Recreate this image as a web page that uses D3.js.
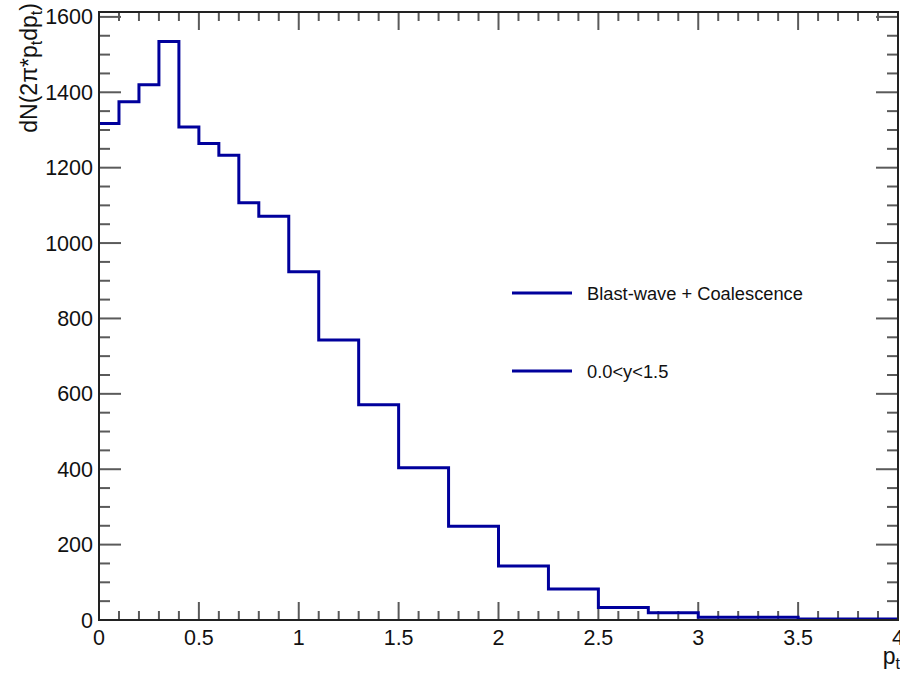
<!DOCTYPE html>
<html>
<head>
<meta charset="utf-8">
<script src="https://cdn.jsdelivr.net/npm/d3@7"></script>
<style>
  html, body { margin: 0; padding: 0; background: #fff; }
  svg { display: block; font-family: "Liberation Sans", Arial, Helvetica, sans-serif; }
</style>
</head>
<body>
<svg id="chart" width="900" height="673"></svg>
<script>
// Variable-width pt bins (GeV/c) and the yield in each bin
const binEdges = [0, 0.1, 0.2, 0.3, 0.4, 0.5, 0.6, 0.7, 0.8, 0.95, 1.1, 1.3, 1.5, 1.75, 2.0, 2.25, 2.5, 2.75, 3.0, 3.5, 4.0];
const binValues = [1317, 1375, 1420, 1535, 1308, 1264, 1233, 1107, 1071, 924, 743, 571, 404, 249, 143, 82, 33, 19, 7, 2.5];

const xTickLabels = ["0", "0.5", "1", "1.5", "2", "2.5", "3", "3.5", "4"];
const yTickLabels = ["0", "200", "400", "600", "800", "1000", "1200", "1400", "1600"];
const legendEntries = ["Blast-wave + Coalescence", "0.0<y<1.5"];

const lineColor = "#00009c";
const frameColor = "#222";
const tickColor = "#5a5a5a";

const svg = d3.select("#chart");
const padL = 99, padR = 898, padT = 12, padB = 620;

const x = d3.scaleLinear().domain([0, 4]).range([padL, padR]);
const y = d3.scaleLinear().domain([0, 1613]).range([padB, padT]);

const xMajor = xTickLabels.map(Number);
const yMajor = yTickLabels.map(Number);
const xMinor = d3.range(0, 4.0001, 0.1).filter(v => Math.abs(v * 2 - Math.round(v * 2)) > 1e-6);
const yMinor = d3.range(0, 1613, 50).filter(v => v % 200 !== 0);

const ticks = svg.append("g").attr("stroke", tickColor).attr("stroke-width", 2);

// Bottom and top ticks
xMajor.forEach(v => {
  ticks.append("line").attr("x1", x(v)).attr("x2", x(v)).attr("y1", padB).attr("y2", padB - 18);
  ticks.append("line").attr("x1", x(v)).attr("x2", x(v)).attr("y1", padT).attr("y2", padT + 18);
});
xMinor.forEach(v => {
  ticks.append("line").attr("x1", x(v)).attr("x2", x(v)).attr("y1", padB).attr("y2", padB - 9);
  ticks.append("line").attr("x1", x(v)).attr("x2", x(v)).attr("y1", padT).attr("y2", padT + 9);
});
// Left and right ticks
yMajor.forEach(v => {
  ticks.append("line").attr("x1", padL).attr("x2", padL + 22).attr("y1", y(v)).attr("y2", y(v));
  ticks.append("line").attr("x1", padR).attr("x2", padR - 22).attr("y1", y(v)).attr("y2", y(v));
});
yMinor.forEach(v => {
  ticks.append("line").attr("x1", padL).attr("x2", padL + 11).attr("y1", y(v)).attr("y2", y(v));
  ticks.append("line").attr("x1", padR).attr("x2", padR - 11).attr("y1", y(v)).attr("y2", y(v));
});

// Histogram outline
const pts = [];
binValues.forEach((v, i) => {
  pts.push([binEdges[i], v]);
  pts.push([binEdges[i + 1], v]);
});
svg.append("path")
  .attr("d", d3.line().x(d => x(d[0])).y(d => y(d[1]))(pts))
  .attr("fill", "none")
  .attr("stroke", lineColor)
  .attr("stroke-width", 3)
  .attr("stroke-linejoin", "miter");

// Frame
svg.append("rect")
  .attr("x", padL).attr("y", padT)
  .attr("width", padR - padL).attr("height", padB - padT)
  .attr("fill", "none").attr("stroke", frameColor).attr("stroke-width", 2);

// Tick labels
const fs = 21.5;
svg.append("g").selectAll("text").data(xTickLabels).join("text")
  .attr("x", d => x(+d)).attr("y", 645)
  .attr("text-anchor", "middle").attr("font-size", fs).attr("fill", "#111")
  .text(d => d);
svg.append("g").selectAll("text").data(yTickLabels).join("text")
  .attr("x", 93).attr("y", d => y(+d) + 7.5)
  .attr("text-anchor", "end").attr("font-size", fs).attr("fill", "#111")
  .text(d => d);

// Axis titles
const tfs = 23;
const yTitle = svg.append("text")
  .attr("transform", `translate(37,3) rotate(-90)`)
  .attr("text-anchor", "end").attr("font-size", tfs).attr("fill", "#111");
yTitle.append("tspan").text("dN(2π*p");
yTitle.append("tspan").attr("font-size", tfs * 0.7).attr("dy", 5).text("t");
yTitle.append("tspan").attr("dy", -5).text("dp");
yTitle.append("tspan").attr("font-size", tfs * 0.7).attr("dy", 5).text("t");
yTitle.append("tspan").attr("dy", -5).text(")");

const xTitle = svg.append("text")
  .attr("x", 900).attr("y", 664)
  .attr("text-anchor", "end").attr("font-size", tfs).attr("fill", "#111");
xTitle.append("tspan").text("p");
xTitle.append("tspan").attr("font-size", tfs * 0.7).attr("dy", 5).text("t");

// Legend
const legend = svg.append("g");
legendEntries.forEach((t, i) => {
  const ly = i === 0 ? 293 : 371;
  legend.append("line")
    .attr("x1", 512).attr("x2", 572).attr("y1", ly).attr("y2", ly)
    .attr("stroke", lineColor).attr("stroke-width", 3);
  legend.append("text")
    .attr("x", 587).attr("y", ly + 6.5)
    .attr("font-size", 18.3).attr("fill", "#111")
    .text(t);
});
</script>
</body>
</html>
